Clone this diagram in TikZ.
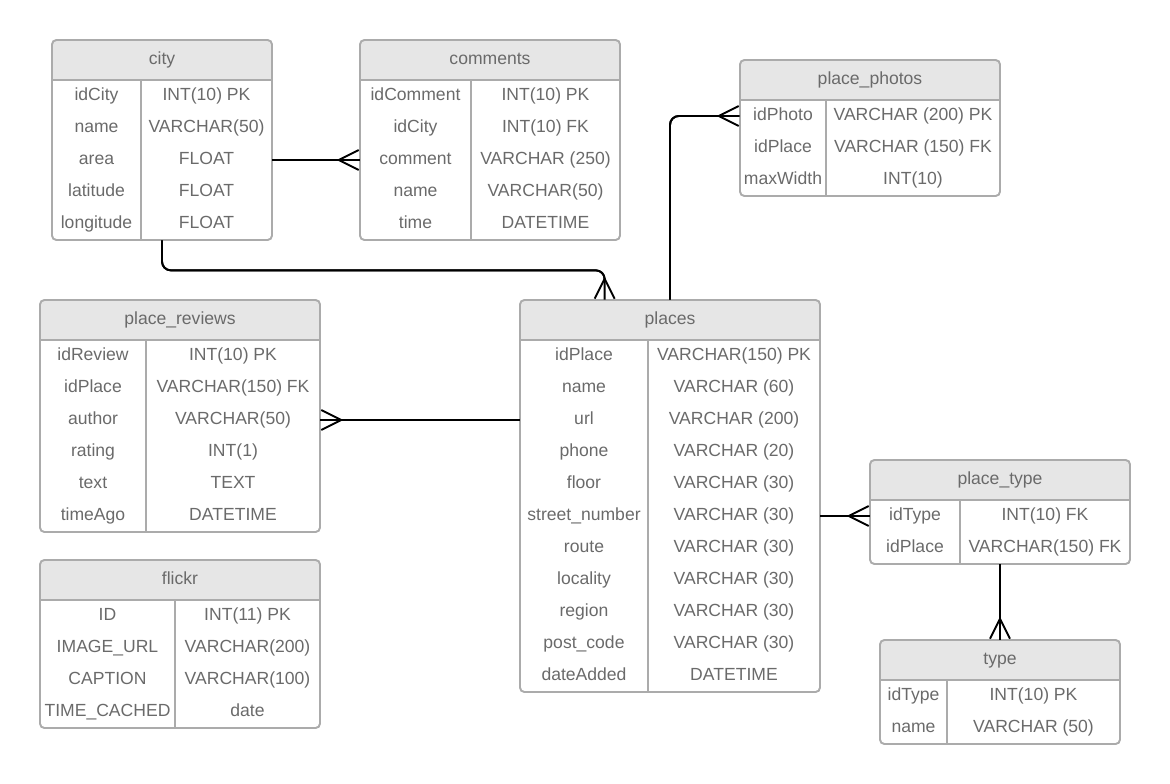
\documentclass[tikz,border=0pt]{standalone}
\usepackage{fontspec}
\setmainfont{Liberation Sans}
\usetikzlibrary{arrows.meta,fit}
\definecolor{erdgray}{HTML}{ABABAB}
\definecolor{erdhead}{HTML}{E6E6E6}
\definecolor{erdtext}{HTML}{6A6A6A}

% #1 name, #2 left, #3 top, #4 divider, #5 right, #6 rows, #7 title, #8 key/type list
\newcommand{\erdtable}[8]{%
  \fill[headfill] (#2,#3) rectangle (#5,#3+40);
  \fill[headfill,sharp corners] (#2,#3+20) rectangle (#5,#3+40);
  \draw[border] (#2,#3) rectangle (#5,#3+40+32*#6);
  \draw[border] (#2,#3+40) -- (#5,#3+40);
  \draw[border] (#4,#3+40) -- (#4,#3+40+32*#6);
  \node (#1-title) at ({(#2+#5)/2},#3+20) {#7};
  \foreach \erdkey/\erdtype [count=\i] in {#8} {
    \node (#1-r\i) at ({(#2+#4)/2},#3+24+32*\i) {\erdkey};
    \node (#1-t\i) at ({(#4+#5)/2},#3+24+32*\i) {\erdtype};
  }
  \coordinate (#1-nw) at (#2,#3);
  \coordinate (#1-se) at (#5,#3+40+32*#6);
  \node[fit=(#1-nw)(#1-se),inner sep=0pt] (#1) {};
}

\begin{document}
\begin{tikzpicture}[x=0.02cm,y=-0.02cm,
  every node/.style={font=\fontsize{10}{12}\selectfont,text=erdtext,
    text height=7.2pt,text depth=2.2pt,inner sep=0pt},
  headfill/.style={fill=erdhead,rounded corners=2.5pt},
  border/.style={draw=erdgray,line width=1.1pt,rounded corners=2.5pt},
  rel/.style={draw=black,line width=1.1pt},
  crow/.style={-{Straight Barb[reversed,length=0.4cm,width=0.4cm]},
    preaction={draw=black,line width=1.1pt,-}}]
\useasboundingbox (0,0) rectangle (1170,784);

% tables
\erdtable{city}{52}{40}{141}{272}{5}{city}{idCity/INT(10) PK, name/VARCHAR(50), area/FLOAT, latitude/FLOAT, longitude/FLOAT}
\erdtable{comments}{360}{40}{471}{620}{5}{comments}{idComment/INT(10) PK, idCity/INT(10) FK, comment/VARCHAR (250), name/VARCHAR(50), time/DATETIME}
\erdtable{photos}{740}{60}{826}{1000}{3}{place\_photos}{idPhoto/VARCHAR (200) PK, idPlace/VARCHAR (150) FK, maxWidth/INT(10)}
\erdtable{reviews}{40}{300}{146}{320}{6}{place\_reviews}{idReview/INT(10) PK, idPlace/VARCHAR(150) FK, author/VARCHAR(50), rating/INT(1), text/TEXT, timeAgo/DATETIME}
\erdtable{flickr}{40}{560}{175}{320}{4}{flickr}{ID/INT(11) PK, IMAGE\_URL/VARCHAR(200), CAPTION/VARCHAR(100), TIME\_CACHED/date}
\erdtable{places}{520}{300}{648}{820}{11}{places}{idPlace/VARCHAR(150) PK, name/VARCHAR (60), url/VARCHAR (200), phone/VARCHAR (20), floor/VARCHAR (30), street\_number/VARCHAR (30), route/VARCHAR (30), locality/VARCHAR (30), region/VARCHAR (30), post\_code/VARCHAR (30), dateAdded/DATETIME}
\erdtable{placetype}{870}{460}{960}{1130}{2}{place\_type}{idType/INT(10) FK, idPlace/VARCHAR(150) FK}
\erdtable{type}{880}{640}{947}{1120}{2}{type}{idType/INT(10) PK, name/VARCHAR (50)}

% relations
\draw[rel,crow] (city.east |- city-r3) -- (comments.west |- comments-r3);
\draw[rel,crow,rounded corners=5pt] (city.south) -- ++(0,30) -| ([xshift=1.7cm]places.north west);
\draw[rel,crow,rounded corners=5pt] (places.north) |- (photos.west |- photos-r1);
\draw[rel,crow] (places.west |- places-r3) -- (reviews.east |- reviews-r3);
\draw[rel,crow] (places.east |- places-r6) -- (placetype.west |- placetype-r1);
\draw[rel,crow] (placetype.south) -- (type.north);
\end{tikzpicture}
\end{document}
